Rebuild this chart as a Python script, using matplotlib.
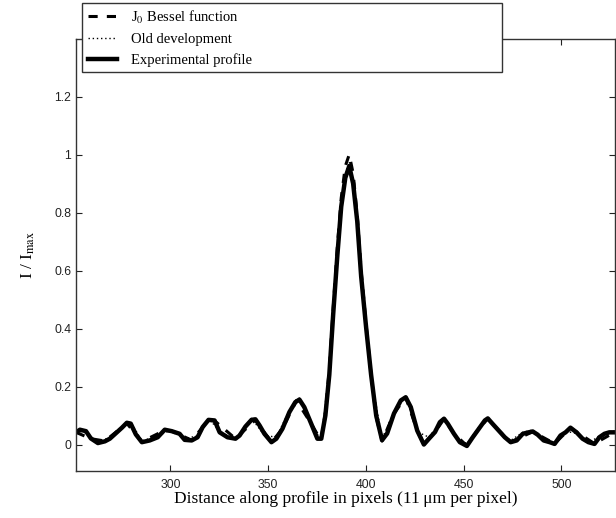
import matplotlib
matplotlib.use("Agg")
import matplotlib.pyplot as plt
from matplotlib.ticker import FormatStrFormatter

# %% Data
# experimental profile (pixel position, I/Imax)
exp_x = [251.7, 253.7, 256.8, 259.3, 262.9, 266.5, 269.0, 272.6, 275.2, 277.7,
         279.7, 282.3, 285.4, 289.4, 293.5, 297.1, 300.7, 304.7, 307.3, 310.9,
         313.9, 316.5, 319.5, 322.6, 325.2, 329.2, 333.3, 335.4, 338.4, 341.5,
         343.5, 345.6, 348.1, 351.7, 354.2, 357.3, 360.9, 363.9, 366.0, 368.5,
         372.1, 375.2, 377.2, 379.3, 381.3, 383.3, 385.4, 387.4, 389.5, 391.5,
         393.5, 395.6, 397.6, 400.2, 402.7, 405.3, 408.3, 410.9, 414.4, 417.9,
         420.4, 423.0, 426.3, 429.7, 432.3, 435.4, 437.9, 440.0, 442.0, 445.1,
         448.1, 451.7, 454.7, 457.8, 460.9, 462.4, 464.9, 468.0, 471.1, 474.1,
         477.2, 480.3, 483.3, 485.4, 487.9, 491.0, 494.1, 496.6, 499.6, 502.2,
         504.7, 507.8, 510.9, 513.9, 517.0, 519.5, 522.1, 524.6, 527.2]
exp_y = [0.042, 0.051, 0.046, 0.021, 0.005, 0.011, 0.020, 0.042, 0.058, 0.075,
         0.072, 0.035, 0.008, 0.014, 0.025, 0.051, 0.046, 0.037, 0.016, 0.014,
         0.025, 0.060, 0.085, 0.083, 0.042, 0.025, 0.020, 0.031, 0.062, 0.085,
         0.087, 0.066, 0.037, 0.008, 0.020, 0.054, 0.112, 0.146, 0.155, 0.129,
         0.071, 0.020, 0.020, 0.100, 0.240, 0.450, 0.650, 0.820, 0.920, 0.960,
         0.900, 0.770, 0.580, 0.400, 0.240, 0.100, 0.015, 0.038, 0.107, 0.152,
         0.163, 0.129, 0.048, 0.000, 0.020, 0.043, 0.077, 0.089, 0.071, 0.037,
         0.008, -0.005, 0.025, 0.054, 0.083, 0.090, 0.071, 0.048, 0.025, 0.008,
         0.014, 0.037, 0.042, 0.045, 0.034, 0.014, 0.008, 0.002, 0.031, 0.042,
         0.058, 0.042, 0.020, 0.008, 0.002, 0.025, 0.037, 0.042, 0.042]

# J0 Bessel function (mostly hidden under the profile, visible at the peak)
bes_x = [251.7, 259.3, 266.5, 277.7, 285.4, 297.1, 300.7, 310.9, 319.5, 322.6,
         333.3, 343.5, 351.7, 357.3, 364.5, 372.1, 377.0, 379.3, 381.3, 383.3,
         385.4, 387.4, 389.5, 391.5, 393.5, 395.6, 397.6, 400.2, 402.7, 405.3,
         408.3, 414.4, 420.4, 426.3, 429.7, 435.4, 440.0, 445.1, 451.7, 457.8,
         462.4, 468.0, 474.1, 485.4, 496.6, 504.7, 517.0, 527.2]
bes_y = [0.042, 0.020, 0.012, 0.073, 0.010, 0.049, 0.046, 0.015, 0.083, 0.082,
         0.020, 0.085, 0.008, 0.054, 0.152, 0.071, 0.015, 0.110, 0.260, 0.470,
         0.680, 0.850, 0.960, 1.000, 0.935, 0.790, 0.600, 0.410, 0.240, 0.095,
         0.012, 0.107, 0.163, 0.048, 0.002, 0.043, 0.088, 0.037, -0.004, 0.054,
         0.089, 0.048, 0.009, 0.044, 0.003, 0.057, 0.003, 0.042]

# old development (dotted, mostly hidden)
old_x = [251.7, 256.8, 262.9, 269.0, 275.2, 279.7, 285.4, 293.5, 300.7, 307.3,
         313.9, 319.5, 325.2, 333.3, 341.5, 348.1, 354.2, 360.9, 366.0, 372.1,
         377.2, 381.3, 385.4, 389.5, 391.5, 393.5, 397.6, 402.7, 408.3, 414.4,
         420.4, 426.3, 432.3, 440.0, 445.1, 451.7, 457.8, 462.4, 468.0, 474.1,
         480.3, 485.4, 491.0, 496.6, 502.2, 507.8, 513.9, 519.5, 527.2]
old_y = [0.048, 0.040, 0.008, 0.025, 0.062, 0.078, 0.012, 0.030, 0.052, 0.020,
         0.030, 0.090, 0.046, 0.015, 0.090, 0.032, 0.025, 0.118, 0.160, 0.066,
         0.015, 0.250, 0.660, 0.930, 0.975, 0.910, 0.590, 0.235, 0.020, 0.112,
         0.168, 0.044, 0.025, 0.094, 0.032, 0.002, 0.060, 0.095, 0.044, 0.014,
         0.042, 0.050, 0.010, 0.006, 0.046, 0.038, 0.004, 0.030, 0.046]

x_ticks = [300, 350, 400, 450, 500]
y_ticks = [0, 0.2, 0.4, 0.6, 0.8, 1.0, 1.2]

# %% Plot
plt.rcParams['mathtext.fontset'] = 'stix'
serif = ['Liberation Serif', 'DejaVu Serif']

fig = plt.figure(figsize=(6.16, 5.18), dpi=100)
ax = fig.add_axes([0.1234, 0.0915, 0.875, 0.834])

ax.plot(bes_x, bes_y, color='black', linestyle=(0, (3, 3)), linewidth=2.2,
        label='J$_0$ Bessel function')
ax.plot(old_x, old_y, color='black', linestyle=(0, (1, 2)), linewidth=1.0,
        label='Old development')
ax.plot(exp_x, exp_y, color='black', linewidth=3.2,
        label='Experimental profile')

ax.set_xlim(251.7, 527.5)
ax.set_ylim(-0.09, 1.40)
ax.set_xticks(x_ticks)
ax.set_yticks(y_ticks)
ax.yaxis.set_major_formatter(FormatStrFormatter('%g'))
ax.tick_params(direction='in', length=4, width=0.8, top=True, right=True,
               labelsize=8.8, colors='#222222')
ax.tick_params(axis='x', pad=6)
for lab in ax.get_xticklabels() + ax.get_yticklabels():
    lab.set_family(['Liberation Sans', 'DejaVu Sans'])
for s in ax.spines.values():
    s.set_linewidth(1.0)
    s.set_color('#333333')

ax.set_xlabel('Distance along profile in pixels (11\u2009\u03bcm per pixel)',
              family=serif, fontsize=12.5, labelpad=0)
ax.set_ylabel('I / I$_{\\mathrm{max}}$', family=serif, fontsize=12.5,
              labelpad=12)

leg = ax.legend(loc='lower left', bbox_to_anchor=(0.012, 0.922, 0.778, 0.16),
                mode='expand', borderaxespad=0, fancybox=False,
                framealpha=1, edgecolor='#333333', handlelength=2.0,
                handletextpad=1.0, labelspacing=0.5, borderpad=0.35,
                prop={'family': serif, 'size': 10.5})
leg.get_frame().set_linewidth(1.0)

fig.savefig('out.png', dpi=100)
